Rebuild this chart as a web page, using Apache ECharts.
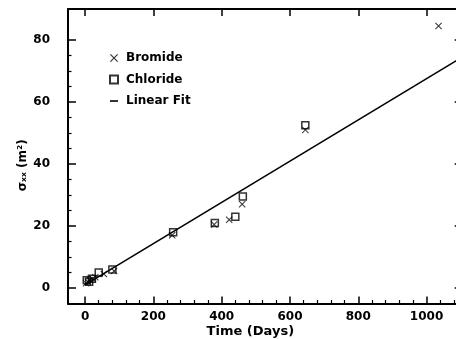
<!DOCTYPE html>
<html>
<head>
<meta charset="utf-8">
<script src="https://cdn.jsdelivr.net/npm/echarts@6/dist/echarts.min.js"></script>
<style>
  html, body { margin: 0; padding: 0; background: #fff; }
  #chart { width: 456px; height: 339px; }
</style>
</head>
<body>
<div id="chart"></div>
<script>
// Dispersion variance vs. elapsed time for the two tracers
const bromideDays   = [3, 8, 14, 22, 30, 55, 85, 255, 378, 422, 460, 645, 1035];
const bromideValues = [1.5, 2, 2.5, 3, 3.5, 4.5, 5.5, 17, 20.5, 22, 27, 51, 84.5];
const chlorideDays   = [5, 12, 20, 40, 80, 258, 380, 440, 462, 645];
const chlorideValues = [2.5, 2, 3, 5, 6, 18, 21, 23, 29.5, 52.5];

// Least-squares line through both tracers
const fitDays   = [0, 1100];
const fitValues = [1.0, 74.2];

// Axis ticks
const xMajorTicks = [0, 200, 400, 600, 800, 1000];
const xMinorTicks = [40, 80, 120, 160, 240, 280, 320, 360, 440, 480, 520, 560,
                     640, 680, 720, 760, 840, 880, 920, 960, 1040, 1080];
const yMajorTicks = [0, 20, 40, 60, 80];
const yMinorTicks = [5, 10, 15, 25, 30, 35, 45, 50, 55, 65, 70, 75];

const FONT = '"DejaVu Sans", "Liberation Sans", sans-serif';
const INK = '#000';

const pairs = (xs, ys) => xs.map((x, i) => [x, ys[i]]);

// Filled "x" marker
const crossPath = 'path://M1,0 L5,4 L9,0 L10,1 L6,5 L10,9 L9,10 L5,6 L1,10 L0,9 L4,5 L0,1 Z';
// Short dash for the fitted line's legend entry
const dashPath = 'path://M0,0 L10,0 L10,2 L0,2 Z';

const X_MIN = -50, X_MAX = 1100, Y_MIN = -5, Y_MAX = 90;
const MINOR_LEN = 3.5;

function baseAxis(extra) {
  return Object.assign({
    type: 'value',
    offset: 0,
    splitLine: { show: false },
    axisLine: { show: true, onZero: false, lineStyle: { color: INK, width: 2 } },
    axisTick: { show: true, inside: true, length: 7, lineStyle: { color: INK, width: 1.5 } },
    axisLabel: { show: false }
  }, extra);
}

// Axis that only carries the short minor ticks (its line is invisible)
function minorAxis(position, min, max, values) {
  return baseAxis({
    position, min, max,
    axisLine: { show: true, onZero: false, lineStyle: { color: 'rgba(0,0,0,0)', width: 0 } },
    axisTick: { show: true, inside: true, length: MINOR_LEN, customValues: values, lineStyle: { color: INK, width: 1.2 } }
  });
}

const plainNumber = v => String(v);
const tickFont = { fontFamily: FONT, fontSize: 12, fontWeight: 'bold', color: INK };

const chart = echarts.init(document.getElementById('chart'), null, { renderer: 'canvas' });

chart.setOption({
  animation: false,
  backgroundColor: '#fff',
  grid: { left: 68, right: -4.7, top: 9, bottom: 35.5, containLabel: false, outerBoundsMode: 'none' },
  legend: {
    orient: 'vertical',
    left: 104,
    top: 47,
    itemWidth: 8,
    itemHeight: 8,
    itemGap: 9.5,
    textStyle: { fontFamily: FONT, fontSize: 12, fontWeight: 'bold', color: INK, padding: [0, 0, 0, 3] },
    data: [
      { name: 'Bromide' },
      { name: 'Chloride' },
      { name: 'Linear Fit', icon: dashPath, itemStyle: { color: INK, borderWidth: 0 } }
    ]
  },
  xAxis: [
    baseAxis({
      position: 'bottom', min: X_MIN, max: X_MAX,
      name: 'Time (Days)', nameLocation: 'middle', nameGap: 22, nameMoveOverlap: false,
      nameTextStyle: { fontFamily: FONT, fontSize: 13, fontWeight: 'bold', color: INK, padding: [0, 28, 0, 0] },
      axisTick: { show: true, inside: true, length: 7, customValues: xMajorTicks, lineStyle: { color: INK, width: 1.5 } },
      axisLabel: Object.assign({ show: true, customValues: xMajorTicks, formatter: plainNumber, margin: 7 }, tickFont)
    }),
    minorAxis('bottom', X_MIN, X_MAX, xMinorTicks),
    baseAxis({
      position: 'top', min: X_MIN, max: X_MAX,
      axisTick: { show: true, inside: true, length: 7, customValues: xMajorTicks, lineStyle: { color: INK, width: 1.5 } }
    })
  ],
  yAxis: [
    baseAxis({
      position: 'left', min: Y_MIN, max: Y_MAX,
      name: 'σₓₓ (m²)', nameLocation: 'middle', nameGap: 39, nameRotate: 90, nameMoveOverlap: false,
      nameTextStyle: { fontFamily: FONT, fontSize: 12, fontWeight: 'bold', color: INK, padding: [0, 18, 0, 0] },
      axisTick: { show: true, inside: true, length: 8, customValues: yMajorTicks, lineStyle: { color: INK, width: 1.5 } },
      axisLabel: Object.assign({ show: true, customValues: yMajorTicks, formatter: plainNumber, margin: 18 }, tickFont)
    }),
    minorAxis('left', Y_MIN, Y_MAX, yMinorTicks),
    baseAxis({
      position: 'right', min: Y_MIN, max: Y_MAX,
      axisTick: { show: true, inside: true, length: 6, customValues: yMajorTicks, lineStyle: { color: INK, width: 1.5 } }
    })
  ],
  series: [
    {
      name: 'Linear Fit',
      type: 'line',
      data: pairs(fitDays, fitValues),
      symbol: 'none',
      lineStyle: { color: INK, width: 1.6 },
      itemStyle: { color: INK },
      z: 2
    },
    {
      name: 'Chloride',
      type: 'scatter',
      data: pairs(chlorideDays, chlorideValues),
      symbol: 'rect',
      symbolSize: 7,
      itemStyle: { color: 'rgba(255,255,255,0)', borderColor: INK, borderWidth: 1.5 },
      z: 3
    },
    {
      name: 'Bromide',
      type: 'scatter',
      data: pairs(bromideDays, bromideValues),
      symbol: crossPath,
      symbolSize: 7,
      itemStyle: { color: INK },
      z: 4
    }
  ]
});
</script>
</body>
</html>
